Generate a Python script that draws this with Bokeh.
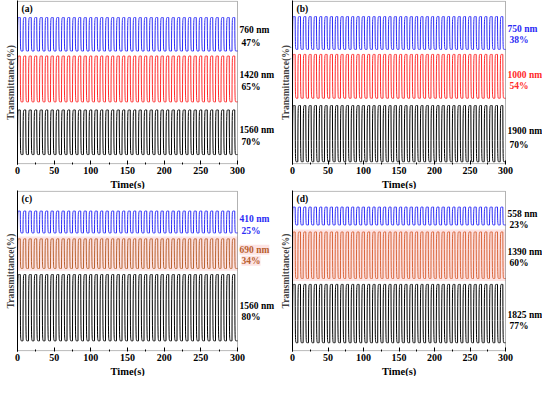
import numpy as np
from bokeh.plotting import figure
from bokeh.layouts import column, row
from bokeh.models import Range1d, Label, BoxAnnotation, FixedTicker, Title
from bokeh.embed import file_html
from bokeh.resources import INLINE

# ---------------- data ----------------
TIME_END = 300          # s
N_CYCLES = 40           # switching cycles over the record
x_ticks = [0, 50, 100, 150, 200, 250, 300]
x_minor = [25, 75, 125, 175, 225, 275]

panel_tags = ["(a)", "(b)", "(c)", "(d)"]

# stacked (offset) transmittance levels, plot units 0..100 of each frame
a_wavelength = ["760 nm", "1420 nm", "1560 nm"]
a_modulation = ["47%", "65%", "70%"]
a_high = [90.0, 66.3, 33.1]
a_low = [69.4, 38.1, 5.6]

b_wavelength = ["750 nm", "1000 nm", "1900 nm"]
b_modulation = ["38%", "54%", "70%"]
b_high = [90.6, 67.3, 35.8]
b_low = [70.4, 40.3, 1.2]

c_wavelength = ["410 nm", "690 nm", "1560 nm"]
c_modulation = ["25%", "34%", "80%"]
c_high = [87.6, 70.2, 47.8]
c_low = [73.9, 51.6, 6.2]

d_wavelength = ["558 nm", "1390 nm", "1825 nm"]
d_modulation = ["23%", "60%", "77%"]
d_high = [90.1, 74.5, 41.6]
d_low = [78.9, 45.3, 5.0]

# ---------------- styles / layout ----------------
FONT = "Liberation Serif"
BLUE = "#2b2bf5"
RED = "#ff2a2a"
BROWN = "#b8602e"
ORANGE = "#d9653a"
PINK = "#fde4e4"

# column geometry: figure width, left border, width of the plotted box (px)
COLS = [dict(width=275, left=17, box=220), dict(width=267, left=17, box=213)]
ROWS = [dict(height=189, top=0), dict(height=187, top=1)]

panels = [
    dict(tag=panel_tags[0], wl=a_wavelength, mod=a_modulation, hi=a_high, lo=a_low,
         lines=[BLUE, RED, "black"], texts=["black", "black", "black"],
         ly=[(82.5, 74.4), (54.4, 47.5), (20.6, 13.1)], band=None, lbg=False, col=0, row=0),
    dict(tag=panel_tags[1], wl=b_wavelength, mod=b_modulation, hi=b_high, lo=b_low,
         lines=[BLUE, RED, "black"], texts=[BLUE, RED, "black"],
         ly=[(83.0, 76.1), (54.7, 47.8), (20.1, 11.3)], band=None, lbg=False, col=1, row=0),
    dict(tag=panel_tags[2], wl=c_wavelength, mod=c_modulation, hi=c_high, lo=c_low,
         lines=[BLUE, BROWN, "black"], texts=[BLUE, BROWN, "black"],
         ly=[(82.6, 75.2), (63.4, 56.5), (28.0, 21.1)], band=1, lbg=True, col=0, row=1),
    dict(tag=panel_tags[3], wl=d_wavelength, mod=d_modulation, hi=d_high, lo=d_low,
         lines=[BLUE, ORANGE, "black"], texts=["black", "black", "black"],
         ly=[(85.7, 78.9), (62.1, 55.3), (22.4, 15.5)], band=1, lbg=False, col=1, row=1),
]


def switching_trace(high, low, n_cycles, t_end, tau=0.2, pts=40):
    """Square switching between the read high/low levels, with a short relaxation."""
    half = t_end / n_cycles / 2.0
    ts, ys = [], []
    y = low
    for k in range(2 * n_cycles):
        target = high if k % 2 == 0 else low
        t0 = k * half
        tt = np.linspace(0, half, pts)
        yy = target + (y - target) * np.exp(-tt / tau)
        ts.append(t0 + tt)
        ys.append(yy)
        y = yy[-1]
    return np.concatenate(ts), np.concatenate(ys)


figs = []
for pd_ in panels:
    cg = COLS[pd_["col"]]
    rg = ROWS[pd_["row"]]
    frame_w = cg["width"] - cg["left"]
    x_end = TIME_END * frame_w / cg["box"]

    p = figure(width=cg["width"], height=rg["height"], output_backend="svg",
               toolbar_location=None, x_range=Range1d(0, x_end), y_range=Range1d(-0.5, 100.5),
               min_border_left=cg["left"], min_border_right=0,
               min_border_top=rg["top"], min_border_bottom=0)
    p.background_fill_color = "white"
    p.border_fill_color = "white"
    p.outline_line_color = None
    p.xgrid.visible = False
    p.ygrid.visible = False

    # x axis (ticks only up to 300; the frame box is drawn separately)
    p.xaxis.ticker = FixedTicker(ticks=x_ticks, minor_ticks=x_minor)
    p.xaxis.major_tick_in = 4
    p.xaxis.major_tick_out = 0
    p.xaxis.minor_tick_in = 2
    p.xaxis.minor_tick_out = 0
    p.xaxis.major_label_standoff = 2
    p.xaxis.major_label_text_font = FONT
    p.xaxis.major_label_text_font_style = "bold"
    p.xaxis.major_label_text_font_size = "10px"
    p.xaxis.major_label_text_color = "black"
    p.xaxis.axis_line_alpha = 0
    p.xaxis.major_tick_line_color = "black"
    p.xaxis.minor_tick_line_color = "black"

    tw = 34
    p.add_layout(Title(text="Time(s)", align="left", offset=cg["box"] / 2 - tw / 2,
                       text_font=FONT, text_font_style="bold", text_font_size="10.5px",
                       text_color="black", standoff=0), "below")

    # y axis: label only
    p.yaxis.ticker = FixedTicker(ticks=[])
    p.yaxis.major_tick_in = 0
    p.yaxis.major_tick_out = 0
    p.yaxis.minor_tick_in = 0
    p.yaxis.minor_tick_out = 0
    p.yaxis.major_label_text_font_size = "0px"
    p.yaxis.axis_label = "Transmittance(%)"
    p.yaxis.axis_label_text_font = FONT
    p.yaxis.axis_label_text_font_style = "bold"
    p.yaxis.axis_label_text_font_size = "9.5px"
    p.yaxis.axis_label_standoff = 2
    p.yaxis.axis_line_color = "black"

    # frame box 0..300 s
    p.add_layout(BoxAnnotation(left=0, right=TIME_END, bottom=0, top=100,
                               fill_alpha=0, line_color="black", line_width=1))

    if pd_["band"] is not None:
        i = pd_["band"]
        p.add_layout(BoxAnnotation(left=0, right=TIME_END,
                                   bottom=pd_["lo"][i] - 1.5, top=pd_["hi"][i] + 1.5,
                                   fill_color=PINK, fill_alpha=1.0, line_alpha=0,
                                   level="underlay"))

    for i in range(3):
        t, y = switching_trace(pd_["hi"][i], pd_["lo"][i], N_CYCLES, TIME_END)
        p.line(t, y, line_color=pd_["lines"][i], line_width=1.0)

        y1, y2 = pd_["ly"][i]
        bg = PINK if (pd_["lbg"] and pd_["band"] == i) else None
        p.add_layout(Label(x=TIME_END, y=y1, x_offset=2, text=pd_["wl"][i],
                           text_font=FONT, text_font_style="bold", text_font_size="9.5px",
                           text_color=pd_["texts"][i], text_baseline="middle",
                           background_fill_color=bg))
        p.add_layout(Label(x=TIME_END, y=y2, x_offset=4, text=pd_["mod"][i],
                           text_font=FONT, text_font_style="bold", text_font_size="9.5px",
                           text_color=pd_["texts"][i], text_baseline="middle",
                           background_fill_color=bg))

    p.add_layout(Label(x=0, y=100, x_offset=4, y_offset=-3, text=pd_["tag"],
                       text_font=FONT, text_font_style="bold", text_font_size="9.5px",
                       text_color="black", text_baseline="top"))
    figs.append(p)

layout = column(row(figs[0], figs[1]), row(figs[2], figs[3]))

open("out.html", "w").write(file_html(layout, INLINE))
